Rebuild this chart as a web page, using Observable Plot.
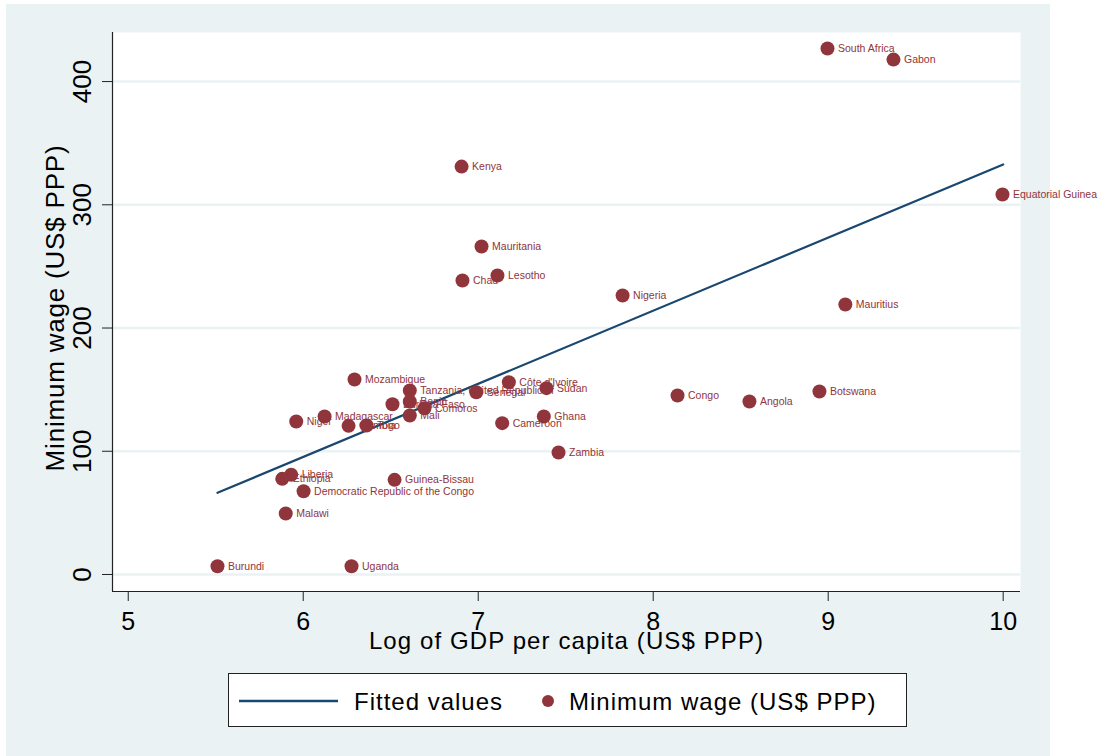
<!DOCTYPE html>
<html><head><meta charset="utf-8">
<script src="https://cdn.jsdelivr.net/npm/d3@7"></script>
<script src="https://cdn.jsdelivr.net/npm/@observablehq/plot@0.6"></script>
<style>
body{margin:0;background:#fff;font-family:"Liberation Sans",Arial,sans-serif;}
#wrap{position:relative;width:1098px;height:756px;overflow:hidden}
#bg{position:absolute;left:6px;top:4px;width:1044px;height:752px;background:#eaf2f3}
#chart{position:absolute;left:0;top:0}
#legend{position:absolute;left:228px;top:673px;width:677px;height:52px;background:#fff;border:1px solid #222}
</style></head><body>
<div id="wrap"><div id="bg"></div><div id="chart"></div><div id="legend"></div></div>
<script>
const countries = ["South Africa","Gabon","Kenya","Equatorial Guinea","Mauritania","Chad","Lesotho","Nigeria","Mauritius",
  "Mozambique","Tanzania, United Republic of","Côte d'Ivoire","Sudan","Senegal","Congo","Botswana","Angola","Benin",
  "Burkina Faso","Comoros","Mali","Ghana","Madagascar","Niger","Cameroon","Gambia","Togo","Zambia","Liberia","Ethiopia",
  "Democratic Republic of the Congo","Guinea-Bissau","Malawi","Burundi","Uganda"];
const logGdp = [8.996,9.373,6.905,9.996,7.019,6.910,7.110,7.825,9.098,
  6.293,6.609,7.175,7.390,6.989,8.139,8.950,8.550,6.609,
  6.510,6.693,6.609,7.375,6.122,5.960,7.137,6.259,6.362,7.459,5.931,5.880,
  6.002,6.522,5.900,5.510,6.276];
const minWage = [426.8,417.8,331.0,308.3,266.1,238.5,242.6,226.4,219.1,
  158.2,149.3,156.0,151.2,147.9,145.2,148.5,140.4,140.4,
  138.2,134.9,129.0,128.2,128.2,124.1,122.8,120.6,120.9,99.0,80.9,77.6,
  67.6,76.8,49.5,6.7,6.7];
const fitX = [5.51, 10.0];
const fitY = [66.3, 332.7];
const xTicks = [5,6,7,8,9,10];
const yTicks = [0,100,200,300,400];
const xTitle = "Log of GDP per capita (US$ PPP)";
const yTitle = "Minimum wage (US$ PPP)";
const legendLabels = ["Fitted values","Minimum wage (US$ PPP)"];

const maroon = "#90353b", navy = "#1a476f", bgc = "#eaf2f3";
const points = countries.map((c,i)=>({country:c, x:logGdp[i], y:minWage[i]}));
const fit = fitX.map((x,i)=>({x, y:fitY[i]}));
const xDom = [4.910, 10.099], yDom = [-13.8, 439.8];

const plot = Plot.plot({
  width:1098, height:680, marginLeft:112, marginRight:78, marginTop:32, marginBottom:89,
  style:{background:"transparent", fontFamily:"'Liberation Sans', Arial, sans-serif", color:"#000", overflow:"visible"},
  x:{domain:xDom}, y:{domain:yDom},
  marks:[
    Plot.frame({fill:"white", stroke:"none"}),
    Plot.gridY(yTicks,{stroke:bgc, strokeWidth:2.5, strokeOpacity:1}),
    Plot.ruleX([xDom[0]],{stroke:"#222", strokeWidth:1.2}),
    Plot.ruleY([yDom[0]],{stroke:"#222", strokeWidth:1.2}),
    Plot.axisX(xTicks,{tickSize:10, tickPadding:10.7, fontSize:25, label:null, stroke:"#222", tickFormat:d=>String(d)}),
    Plot.axisY(yTicks,{tickSize:10, tickPadding:11.5, tickRotate:-90, fontSize:26, label:null, stroke:"#222", tickFormat:d=>String(d)}),
    Plot.text([xTitle],{frameAnchor:"bottom", dy:57, fontSize:24, fill:"#000"}),
    Plot.text([yTitle],{frameAnchor:"left", rotate:-90, textAnchor:"middle", lineAnchor:"bottom", dx:-49, dy:-4, fontSize:26, fill:"#000"}),
    Plot.line(fit,{x:"x", y:"y", stroke:navy, strokeWidth:2.2}),
    Plot.dot(points,{x:"x", y:"y", r:7, fill:maroon, stroke:"none"}),
    Plot.text(points,{x:"x", y:"y", text:"country", dx:10.5, textAnchor:"start", fontSize:10.5, fill:maroon})
  ]
});
d3.select(plot).selectAll("text").filter(function(){return this.textContent===xTitle;}).style("letter-spacing","1.1px");
d3.select(plot).selectAll("text").filter(function(){return this.textContent===yTitle;}).style("letter-spacing","0.8px");
document.getElementById("chart").appendChild(plot);

// legend
const lg = d3.select("#legend").append("svg").attr("width",677).attr("height",52)
  .style("font-family","'Liberation Sans', Arial, sans-serif");
lg.append("line").attr("x1",10).attr("x2",109).attr("y1",27).attr("y2",27).attr("stroke",navy).attr("stroke-width",2.4);
lg.append("text").attr("x",125).attr("y",36).attr("font-size",24).style("letter-spacing","1px").text(legendLabels[0]);
lg.append("circle").attr("cx",319).attr("cy",27).attr("r",6).attr("fill",maroon);
lg.append("text").attr("x",340).attr("y",36).attr("font-size",24).style("letter-spacing","1px").text(legendLabels[1]);
</script>
</body></html>
